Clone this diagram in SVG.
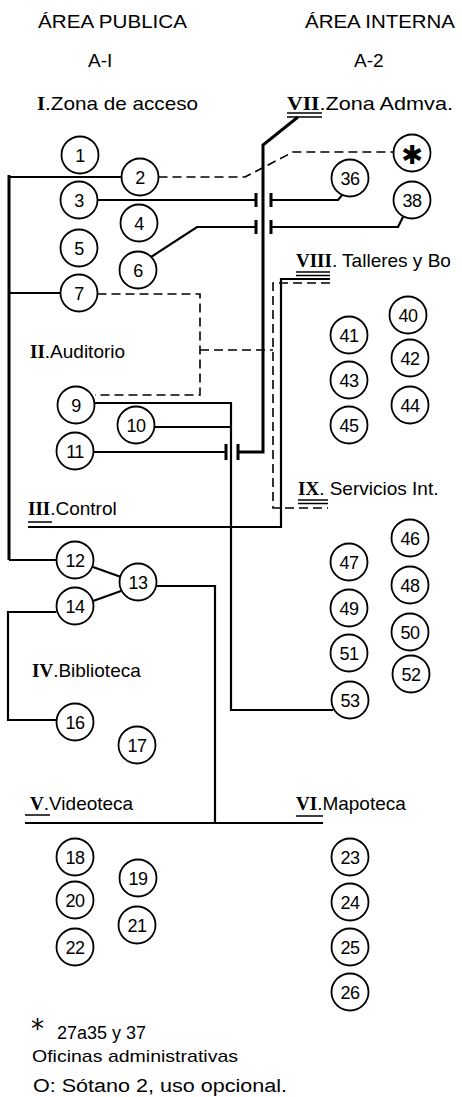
<svg xmlns="http://www.w3.org/2000/svg" width="462" height="1097" viewBox="0 0 462 1097">
<style>
.c{fill:#fff;stroke:#000;stroke-width:1.8}
.n{font-family:"Liberation Sans",Arial,sans-serif;font-size:18px;text-anchor:middle;fill:#000;letter-spacing:-0.5px}
.t{font-family:"Liberation Sans",Arial,sans-serif;font-size:19px;fill:#000}
.h{font-family:"Liberation Sans",Arial,sans-serif;font-size:19px;fill:#000}
.r{font-family:"Liberation Serif","Times New Roman",serif;font-weight:bold}
.l{fill:none;stroke:#000;stroke-width:2.2}
.k{fill:none;stroke:#000;stroke-width:3}
.d{fill:none;stroke:#000;stroke-width:1.6;stroke-dasharray:9 5}
.u{fill:none;stroke:#000;stroke-width:1.6}
</style>
<rect width="462" height="1097" fill="#fff"/>
<g id="headers">
<text class="h" x="38" y="28" textLength="149" lengthAdjust="spacingAndGlyphs">ÁREA PUBLICA</text>
<text class="h" x="305" y="28" textLength="150" lengthAdjust="spacingAndGlyphs">ÁREA INTERNA</text>
<text class="h" x="88" y="67">A-I</text>
<text class="h" x="354" y="67">A-2</text>
</g>
<g id="labels">
<text class="t" x="37" y="110" textLength="161" lengthAdjust="spacingAndGlyphs"><tspan class="r">I</tspan>.Zona de acceso</text>
<text class="t" x="287" y="110" textLength="166" lengthAdjust="spacingAndGlyphs"><tspan class="r">VII</tspan>.Zona Admva.</text>
<text class="t" x="296" y="267"><tspan class="r">VIII</tspan>. Talleres y Bo</text>
<text class="t" x="30" y="358"><tspan class="r">II</tspan>.Auditorio</text>
<text class="t" x="298" y="495"><tspan class="r">IX</tspan>. Servicios Int.</text>
<text class="t" x="28" y="515"><tspan class="r">III</tspan>.Control</text>
<text class="t" x="32" y="677"><tspan class="r">IV</tspan>.Biblioteca</text>
<text class="t" x="30" y="810"><tspan class="r">V</tspan>.Videoteca</text>
<text class="t" x="296" y="810"><tspan class="r">VI</tspan>.Mapoteca</text>
<path class="u" d="M287,113H322M287,117H322M296,272H330M296,275.5H330M298,500H328M298,503.5H328M28,522H52M25,815H50M296,816H323"/>
</g>
<g id="connectors">
<path class="k" d="M9,175V560"/>
<path class="l" d="M9,177H121.5M9,293H60.5M9,560H56.5"/>
<path class="d" d="M158.5,177H245L293,152H393.5"/>
<path class="l" d="M97.5,200H256M271,200H338L343,194"/>
<path class="l" d="M151,257L197,227H256M271,227H398L403,217"/>
<path class="k" d="M298,117L263,145V452H238"/>
<path class="l" d="M226,452H93.5"/>
<path class="k" d="M256,193V207M271,193V207M256,220V234M271,220V234M226,444V460M238,444V460"/>
<path class="d" d="M97.5,294H200V395H95M200,350H273"/>
<path class="l" d="M94.5,403H231V710H333M154.5,427H231"/>
<path class="l" d="M330,279H281V527H28"/>
<path class="d" d="M330,283H273V508H328"/>
<path class="l" d="M93,567L121,577M93,601L121,591"/>
<path class="l" d="M56.5,612H8V720H56.5"/>
<path class="l" d="M156.5,586H215V823"/>
<path class="l" d="M25,823H323"/>
</g>
<g id="nodes">
<g id="n1"><circle class="c" cx="80" cy="155" r="18.5"/><text class="n" x="80" y="161.5">1</text></g>
<g id="n2"><circle class="c" cx="140" cy="177" r="18.5"/><text class="n" x="140" y="183.5">2</text></g>
<g id="n3"><circle class="c" cx="79" cy="200" r="18.5"/><text class="n" x="79" y="206.5">3</text></g>
<g id="n4"><circle class="c" cx="139" cy="223" r="18.5"/><text class="n" x="139" y="229.5">4</text></g>
<g id="n5"><circle class="c" cx="79" cy="248" r="18.5"/><text class="n" x="79" y="254.5">5</text></g>
<g id="n6"><circle class="c" cx="138" cy="270" r="18.5"/><text class="n" x="138" y="276.5">6</text></g>
<g id="n7"><circle class="c" cx="79" cy="293" r="18.5"/><text class="n" x="79" y="299.5">7</text></g>
<g id="nstar"><circle class="c" cx="412" cy="153" r="18.5"/><text class="n" x="412" y="164" style="font-family:'DejaVu Sans',sans-serif;font-size:26px">✱</text></g>
<g id="n36"><circle class="c" cx="350" cy="178" r="18.5"/><text class="n" x="350" y="184.5">36</text></g>
<g id="n38"><circle class="c" cx="412" cy="200" r="18.5"/><text class="n" x="412" y="206.5">38</text></g>
<g id="n9"><circle class="c" cx="76" cy="405" r="18.5"/><text class="n" x="76" y="411.5">9</text></g>
<g id="n10"><circle class="c" cx="136" cy="425" r="18.5"/><text class="n" x="136" y="431.5">10</text></g>
<g id="n11"><circle class="c" cx="75" cy="451" r="18.5"/><text class="n" x="75" y="457.5">11</text></g>
<g id="n40"><circle class="c" cx="408" cy="315" r="18.5"/><text class="n" x="408" y="321.5">40</text></g>
<g id="n41"><circle class="c" cx="349" cy="335" r="18.5"/><text class="n" x="349" y="341.5">41</text></g>
<g id="n42"><circle class="c" cx="410" cy="358" r="18.5"/><text class="n" x="410" y="364.5">42</text></g>
<g id="n43"><circle class="c" cx="349" cy="380" r="18.5"/><text class="n" x="349" y="386.5">43</text></g>
<g id="n44"><circle class="c" cx="410" cy="405" r="18.5"/><text class="n" x="410" y="411.5">44</text></g>
<g id="n45"><circle class="c" cx="349" cy="425" r="18.5"/><text class="n" x="349" y="431.5">45</text></g>
<g id="n46"><circle class="c" cx="410" cy="538" r="18.5"/><text class="n" x="410" y="544.5">46</text></g>
<g id="n47"><circle class="c" cx="349" cy="562" r="18.5"/><text class="n" x="349" y="568.5">47</text></g>
<g id="n48"><circle class="c" cx="410" cy="585" r="18.5"/><text class="n" x="410" y="591.5">48</text></g>
<g id="n49"><circle class="c" cx="349" cy="608" r="18.5"/><text class="n" x="349" y="614.5">49</text></g>
<g id="n50"><circle class="c" cx="410" cy="632" r="18.5"/><text class="n" x="410" y="638.5">50</text></g>
<g id="n51"><circle class="c" cx="349" cy="653" r="18.5"/><text class="n" x="349" y="659.5">51</text></g>
<g id="n52"><circle class="c" cx="411" cy="674" r="18.5"/><text class="n" x="411" y="680.5">52</text></g>
<g id="n53"><circle class="c" cx="350" cy="700" r="18.5"/><text class="n" x="350" y="706.5">53</text></g>
<g id="n12"><circle class="c" cx="75" cy="560" r="18.5"/><text class="n" x="75" y="566.5">12</text></g>
<g id="n13"><circle class="c" cx="138" cy="582" r="18.5"/><text class="n" x="138" y="588.5">13</text></g>
<g id="n14"><circle class="c" cx="75" cy="606" r="18.5"/><text class="n" x="75" y="612.5">14</text></g>
<g id="n16"><circle class="c" cx="75" cy="722" r="18.5"/><text class="n" x="75" y="728.5">16</text></g>
<g id="n17"><circle class="c" cx="137" cy="745" r="18.5"/><text class="n" x="137" y="751.5">17</text></g>
<g id="n18"><circle class="c" cx="75" cy="857" r="18.5"/><text class="n" x="75" y="863.5">18</text></g>
<g id="n19"><circle class="c" cx="138" cy="878" r="18.5"/><text class="n" x="138" y="884.5">19</text></g>
<g id="n20"><circle class="c" cx="75" cy="900" r="18.5"/><text class="n" x="75" y="906.5">20</text></g>
<g id="n21"><circle class="c" cx="137" cy="925" r="18.5"/><text class="n" x="137" y="931.5">21</text></g>
<g id="n22"><circle class="c" cx="75" cy="947" r="18.5"/><text class="n" x="75" y="953.5">22</text></g>
<g id="n23"><circle class="c" cx="350" cy="857" r="18.5"/><text class="n" x="350" y="863.5">23</text></g>
<g id="n24"><circle class="c" cx="350" cy="902" r="18.5"/><text class="n" x="350" y="908.5">24</text></g>
<g id="n25"><circle class="c" cx="350" cy="947" r="18.5"/><text class="n" x="350" y="953.5">25</text></g>
<g id="n26"><circle class="c" cx="350" cy="992" r="18.5"/><text class="n" x="350" y="998.5">26</text></g>
</g>
<g id="legend">
<text x="31" y="1038" style="font-family:'DejaVu Sans',sans-serif;font-size:26px">*</text>
<text class="t" x="57" y="1039" style="font-size:18px">27a35 y 37</text>
<text class="t" x="32" y="1062" style="font-size:17px" textLength="206" lengthAdjust="spacingAndGlyphs">Oficinas administrativas</text>
<text class="t" x="33" y="1092" style="font-size:18px" textLength="254" lengthAdjust="spacingAndGlyphs">O: Sótano 2, uso opcional.</text>
</g>
</svg>
